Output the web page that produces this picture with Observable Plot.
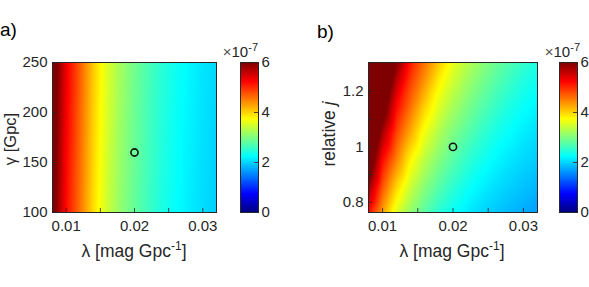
<!DOCTYPE html>
<html><head><meta charset="utf-8">
<script src="https://cdn.jsdelivr.net/npm/d3@7"></script>
<script src="https://cdn.jsdelivr.net/npm/@observablehq/plot@0.6"></script>
<style>
body{margin:0;background:#fff;}
#wrap{position:relative;width:589px;height:287px;overflow:hidden;background:#fff;}
#wrap svg{position:absolute;}
</style></head><body><div id="wrap"></div>
<script>
// ---- data (values in units of 1e-7) ----
const lambdaGrid = [0.008,0.010,0.012,0.014,0.016,0.018,0.020,0.022,0.024,0.026,0.028,0.030,0.032];
// panel a: rows by gamma [Gpc]
const gammaRows = [100,150,200,250];
const a_g100 = [6.20,5.20,4.58,3.94,3.45,3.10,2.84,2.61,2.41,2.27,2.15,2.05,1.97];
const a_g150 = [6.25,5.25,4.63,3.98,3.48,3.13,2.87,2.64,2.44,2.29,2.17,2.07,1.99];
const a_g200 = [6.30,5.30,4.67,4.02,3.52,3.17,2.89,2.66,2.46,2.31,2.19,2.09,2.01];
const a_g250 = [6.35,5.35,4.72,4.06,3.55,3.20,2.92,2.69,2.49,2.33,2.21,2.11,2.03];
// panel b: rows by relative j
const jRows = [0.763,0.85,0.95,1.05,1.15,1.25,1.305];
const b_j0763 = [5.20,4.31,3.55,3.10,2.77,2.49,2.29,2.14,2.02,1.93,1.84,1.76,1.68];
const b_j085  = [5.84,4.73,3.96,3.41,3.03,2.74,2.50,2.31,2.17,2.06,1.97,1.89,1.81];
const b_j095  = [6.53,5.19,4.46,3.78,3.33,3.01,2.76,2.53,2.36,2.22,2.11,2.02,1.95];
const b_j105  = [7.10,5.76,4.85,4.23,3.65,3.28,2.99,2.77,2.56,2.39,2.26,2.15,2.06];
const b_j115  = [7.64,6.35,5.23,4.60,4.03,3.57,3.24,2.99,2.78,2.59,2.42,2.29,2.19];
const b_j125  = [8.14,6.80,5.70,4.93,4.41,3.88,3.50,3.21,2.99,2.79,2.61,2.45,2.33];
const b_j1305 = [8.40,7.07,6.00,5.11,4.57,4.07,3.63,3.33,3.09,2.89,2.71,2.55,2.41];
// reference points
const markA = {x:0.02, y:160};
const markB = {x:0.02, y:1.0};
// ticks
const xTickLabels = [0.01,0.02,0.03];
const xTickMarks = [0.01,0.015,0.02,0.025,0.03];
const yTicksA = [100,150,200,250];
const yTicksB = [0.8,0.9,1,1.1,1.2];
const yLabelsB = [0.8,1,1.2];
const cbTicks = [0,2,4,6];

// ---- helpers ----
const FONT = "Liberation Sans, Arial, sans-serif";
const INK = "#262626";
const jet = {type:"linear", domain:[0,0.75,2.25,3.75,5.25,6],
  range:["#00007f","#0000ff","#00ffff","#ffff00","#ff0000","#7f0000"], interpolate:"rgb", clamp:true};

function gridTable(xs, ys, rows){
  const out=[];
  ys.forEach((y,i)=>xs.forEach((x,k)=>out.push({x, y, v: rows[i][k]})));
  return out;
}
const tableA = gridTable(lambdaGrid, gammaRows, [a_g100,a_g150,a_g200,a_g250]);
const tableB = gridTable(lambdaGrid, jRows, [b_j0763,b_j085,b_j095,b_j105,b_j115,b_j125,b_j1305]);

function heat({table, ydom, yTicks, yLabels, mark, ml, mr, width}){
  const fw = width-ml-mr, fh = 150;
  return Plot.plot({
    width, height:240, marginLeft:ml, marginRight:mr, marginTop:62, marginBottom:28,
    style:{fontFamily:FONT, fontSize:"15px", color:INK, background:"transparent"},
    x:{domain:[0.008,0.032]}, y:{domain:ydom}, color:jet,
    marks:[
      Plot.raster(table, {x:"x", y:"y", fill:"v", interpolate:"barycentric",
        x1:0.008, x2:0.032, y1:ydom[0], y2:ydom[1], pixelSize:1}),
      Plot.tickX(xTickMarks, {x:d=>d, insetTop:fh-4, stroke:INK, strokeWidth:0.8}),
      Plot.tickY(yTicks, {y:d=>d, insetRight:fw-4, stroke:INK, strokeWidth:0.8}),
      Plot.frame({stroke:INK, strokeWidth:1}),
      Plot.dot([mark], {x:"x", y:"y", r:3.6, stroke:"#111", strokeWidth:1.6, fill:"none"}),
      Plot.axisX(xTickLabels, {tickSize:0, tickPadding:8, label:null, tickFormat:d=>String(d), fill:INK}),
      Plot.axisY(yLabels, {tickSize:0, tickPadding:5, label:null, tickFormat:d=>String(d), fill:INK})
    ]
  });
}
function cbar(width, mr){
  return Plot.plot({
    width, height:240, marginLeft:0, marginRight:mr, marginTop:62, marginBottom:28,
    style:{fontFamily:FONT, fontSize:"15px", color:INK, background:"transparent"},
    x:{domain:[0,1], axis:null}, y:{domain:[0,6]}, color:jet,
    marks:[
      Plot.raster({x1:0,x2:1,y1:0,y2:6, fill:(x,y)=>y, pixelSize:1}),
      Plot.tickY([2,4], {y:d=>d, insetLeft:14, stroke:INK, strokeWidth:0.8}),
      Plot.frame({stroke:INK, strokeWidth:1}),
      Plot.axisY(cbTicks, {anchor:"right", tickSize:0, tickPadding:3, label:null, fill:INK})
    ]
  });
}
const wrap = document.getElementById("wrap");
function place(el, left){ el.style.left=left+"px"; el.style.top="0px"; wrap.appendChild(el); }

place(heat({table:tableA, ydom:[100,250], yTicks:yTicksA, yLabels:yTicksA, mark:markA, ml:52, mr:14, width:230}), 0);
place(cbar(40, 22), 240);
place(heat({table:tableB, ydom:[0.763,1.305], yTicks:yTicksB, yLabels:yLabelsB, mark:markB, ml:58, mr:13, width:240}), 310);
place(cbar(30, 12), 559);

// ---- text overlay ----
const svg = d3.select(wrap).append("svg").attr("width",589).attr("height",287)
  .style("left","0px").style("top","0px").style("font-family",FONT).attr("fill",INK);
svg.append("text").attr("x",0).attr("y",36).attr("font-size",19).attr("fill","#000").text("a)");
svg.append("text").attr("x",317).attr("y",38).attr("font-size",19).attr("fill","#000").text("b)");
function xlabel(cx){
  const t = svg.append("text").attr("x",cx).attr("y",257).attr("font-size",17.5).attr("text-anchor","middle");
  t.append("tspan").text("λ [mag Gpc");
  t.append("tspan").attr("dy",-7).attr("font-size",12).text("-1");
  t.append("tspan").attr("dy",7).text("]");
}
xlabel(134); xlabel(452);
svg.append("text").attr("transform","translate(16,139) rotate(-90)").attr("font-size",16.5)
  .attr("text-anchor","middle").text("γ [Gpc]");
const rj = svg.append("text").attr("transform","translate(335,134) rotate(-90)").attr("font-size",17.5)
  .attr("text-anchor","middle");
rj.append("tspan").text("relative ");
rj.append("tspan").attr("font-style","italic").text("j");
function expo(rx){
  const t = svg.append("text").attr("x",rx).attr("y",57).attr("font-size",15).attr("text-anchor","end");
  t.append("tspan").attr("fill","#555").text("×");
  t.append("tspan").text("10");
  t.append("tspan").attr("dy",-6).attr("font-size",11).text("-7");
}
expo(258); expo(580);
</script></body></html>
